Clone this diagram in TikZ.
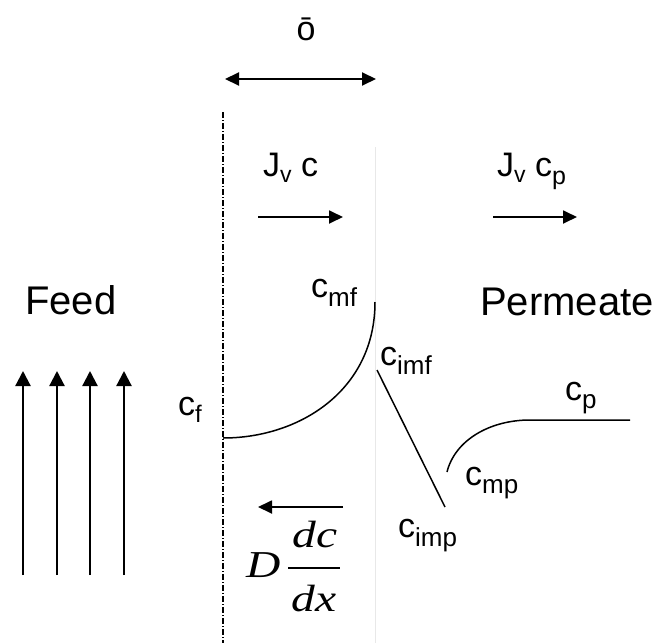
\documentclass[tikz,border=0pt]{standalone}
\usepackage{graphicx}
\usepackage{fontspec}
\setmainfont{Liberation Sans}
\newfontfamily\serifface{Liberation Serif}
\usetikzlibrary{arrows.meta}
\newcommand{\mysub}[3]{\raisebox{-#1}{\fontsize{#2}{#2}\selectfont #3}}
\newcommand{\wide}[1]{\scalebox{1.25}[1]{#1}}
\begin{document}
\begin{tikzpicture}[x=1pt,y=-1pt,
  lbl/.style={inner sep=0pt, anchor=base west, font=\fontsize{34}{34}\selectfont},
  jlbl/.style={inner sep=0pt, anchor=base west, font=\fontsize{34}{34}\selectfont},
  big/.style={inner sep=0pt, anchor=base west, font=\fontsize{40}{40}\selectfont},
  mathlbl/.style={inner sep=0pt, anchor=base, font=\serifface\itshape\fontsize{38}{38}\selectfont},
  flux/.style={line width=1.8pt, -{Triangle[length=14pt,width=13pt]}},
  feedarrow/.style={line width=2.2pt, -{Triangle[length=15pt,width=15pt]}},
  curve/.style={line width=1.5pt}]
\useasboundingbox (0,0) rectangle (657,643);

% thickness label and double arrow
\node[inner sep=0pt, anchor=base, font=\fontsize{34}{34}\selectfont] (delta) at (306,40) {ō};
\coordinate (dl) at (225,79);
\coordinate (dr) at (376,79);
\draw[line width=2pt, {Triangle[length=14pt,width=13pt]}-{Triangle[length=14pt,width=13pt]}] (dl) -- (dr);

% boundary lines
\coordinate (bltop) at (223,112);
\coordinate (blbot) at (223,643);
\draw[line width=1.3pt, dash pattern=on 6pt off 2pt on 1pt off 2pt] (bltop) -- (blbot);
\coordinate (memtop) at (375,147);
\coordinate (membot) at (375,643);
\draw[gray!18, line width=0.8pt] (memtop) -- (membot);

% flux labels and arrows
\node[jlbl] (jvc) at (263,176) {J\mysub{6pt}{23}{v} c};
\node[jlbl] (jvcp) at (497,176) {J\mysub{6pt}{23}{v} c\mysub{8pt}{25}{p}};
\coordinate (a1s) at (258,217); \coordinate (a1e) at (343,217);
\draw[flux] (a1s) -- (a1e);
\coordinate (a2s) at (493,217); \coordinate (a2e) at (577,217);
\draw[flux] (a2s) -- (a2e);

% Feed / Permeate
\node[big] (feed) at (25,314) {Feed};
\node[big] (perm) at (480,315) {Permeate};

% feed arrows
\foreach \i/\x in {1/23,2/57,3/90,4/124}{
  \coordinate (fb\i) at (\x,575);
  \coordinate (ft\i) at (\x,371);
  \draw[feedarrow] (fb\i) -- (ft\i);
}

% concentration labels
\node[lbl] (cmf) at (311,297) {c\mysub{9pt}{26}{mf}};
\node[lbl] (cimf) at (380,365) {c\mysub{9pt}{26}{imf}};
\node[lbl] (cf) at (178,415) {c\mysub{7pt}{24}{f}};
\node[lbl] (cp) at (565,400) {c\mysub{8pt}{26}{p}};
\node[lbl] (cmp) at (465,485) {c\mysub{8pt}{26}{mp}};
\node[lbl] (cimp) at (398,537) {c\mysub{9pt}{26}{imp}};

% concentration profiles
\coordinate (p0) at (223,438);
\coordinate (p1) at (375,302);
\draw[curve] (p0) .. controls (300,438) and (375,390) .. (p1);
\coordinate (q0) at (377,370);
\coordinate (q1) at (445,507);
\draw[curve] (q0) -- (q1);
\coordinate (r0) at (447,472);
\coordinate (r1) at (530,420);
\coordinate (r2) at (630,420);
\draw[curve] (r0) .. controls (455,440) and (490,420) .. (r1) -- (r2);

% diffusion arrow and term
\coordinate (a3s) at (343,507); \coordinate (a3e) at (258,507);
\draw[flux] (a3s) -- (a3e);
\node[mathlbl, anchor=base west] (dD) at (246,577) {\wide{D}};
\node[mathlbl] (num) at (315,547) {\wide{dc}};
\node[mathlbl] (den) at (314,611) {\wide{dx}};
\coordinate (fb0) at (288,568); \coordinate (fb1) at (340,568);
\draw[line width=2pt] (fb0) -- (fb1);
\end{tikzpicture}
\end{document}
